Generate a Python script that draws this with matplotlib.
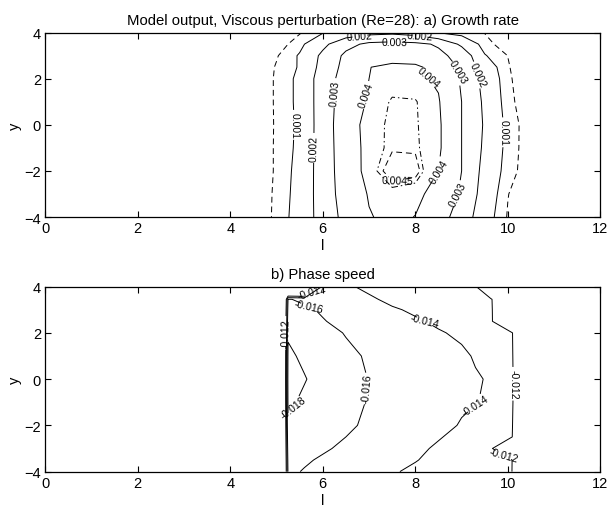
import numpy as np
import matplotlib
matplotlib.use('Agg')
import matplotlib.pyplot as plt

plt.rcParams['font.family'] = ['Liberation Sans', 'DejaVu Sans']

# a) growth rate (rows = y, columns = l)
growth_l = [4.5, 5.0, 5.5, 6.0, 6.5, 7.0, 7.5, 8.0, 8.5, 9.0, 9.5, 10.0, 10.5]
growth_y = [-4, -3, -2, -1, 0, 1, 2, 2.5, 3, 3.5, 4]
growth_rate = [
    [0, .00064, .00131, .00244, .00328, .00395, .00420, .00398, .00339, .00258, .00138, .00045, 0],
    [0, .00062, .00126, .00250, .00341, .00406, .00430, .00420, .00369, .00288, .00157, .00052, 0],
    [0, .00058, .00123, .00251, .00348, .00427, .00465, .00462, .00400, .00300, .00169, .00071, .0002],
    [0, .00058, .00116, .00253, .00350, .00427, .00447, .00446, .00413, .00300, .00183, .00077, .0002],
    [0, .00057, .00113, .00253, .00355, .00430, .00445, .00444, .00413, .00300, .00190, .00078, .0002],
    [0, .00058, .00116, .00253, .00346, .00410, .00445, .00443, .00406, .00300, .00183, .00067, .0001],
    [0, .00058, .00116, .00253, .00338, .00400, .00420, .00415, .00390, .00289, .00169, .00061, 0],
    [0, .00055, .00106, .00235, .00330, .00399, .00410, .00410, .00380, .00280, .00150, .00055, 0],
    [0, .00045, .00107, .00222, .00320, .00370, .00380, .00370, .00320, .00270, .00105, .00049, 0],
    [0, .00020, .00080, .00175, .00270, .00320, .00330, .00320, .00290, .00180, .00070, .00020, 0],
    [0, 0, .00045, .00095, .00140, .00170, .00180, .00160, .00098, .00070, .00048, 0, 0],
]
# labelled levels and the two unlabelled ones (outer dashed, inner dash-dot)
growth_levels = [0.001, 0.002, 0.003, 0.004, 0.0045]
growth_extra = [0.0005, 0.0044]

# b) phase speed (0 outside the unstable region)
phase_l = [4.8, 5.1, 5.25, 5.6, 6.0, 6.5, 7.0, 7.5, 8.0, 8.5, 9.0, 9.3, 9.63, 10.06, 10.5]
phase_y = [-4, -3.5, -3, -2.5, -2, -1, 0, 1, 2, 2.5, 3, 3.45, 4]
phase_speed = [
    [0, 0, -.0163, -.0159, -.0155, -.0150, -.0146, -.0141, -.0138, -.0135, -.0132, -.0130, -.0129, -.0128, 0],
    [0, 0, -.0166, -.0162, -.0158, -.0154, -.0150, -.0145, -.01405, -.0137, -.0134, -.0132, -.0130, -.0129, 0],
    [0, 0, -.0170, -.0166, -.0162, -.0157, -.0153, -.0148, -.0143, -.0138, -.0135, -.0133, -.0131, 0, 0],
    [0, 0, -.0174, -.0170, -.0165, -.0160, -.0156, -.0151, -.0146, -.0141, -.0136, -.0134, -.0132, -.0130, 0],
    [0, 0, -.0178, -.0173, -.0168, -.0162, -.0158, -.0153, -.0148, -.0144, -.0139, -.0136, -.0134, -.0132, 0],
    [0, 0, -.0183, -.0177, -.0171, -.0165, -.0159, -.0154, -.0150, -.0146, -.0142, -.01405, -.0138, -.0135, 0],
    [0, 0, -.0185, -.0181, -.0174, -.0167, -.01595, -.0155, -.0151, -.0147, -.0143, -.0141, -.0139, -.0136, 0],
    [0, 0, -.0183, -.0177, -.0171, -.0164, -.0158, -.0154, -.0150, -.0146, -.0142, -.0139, -.0136, -.0134, 0],
    [0, 0, -.0178, -.0172, -.0166, -.0159, -.0154, -.0149, -.0145, -.0141, -.0138, -.0136, -.0134, -.0132, 0],
    [0, 0, -.0173, -.0167, -.0161, -.0155, -.0150, -.0146, -.01415, -.0138, -.0135, -.0133, -.0131, 0, 0],
    [0, 0, -.0167, -.0163, -.0158, -.0152, -.0147, -.01415, -.0138, -.0135, -.0133, -.0131, -.0130, 0, 0],
    [0, 0, -.0161, -.0157, -.0153, -.0146, -.0142, -.0137, -.0134, -.0132, -.0130, -.0129, -.0128, 0, 0],
    [0, 0, 0, 0, -.0148, -.0142, -.0137, -.0133, -.0131, -.0129, -.0128, -.0127, 0, 0, 0],
]
phase_levels = [-0.018, -0.016, -0.014, -0.012]

xticks = [0, 2, 4, 6, 8, 10, 12]
yticks = [-4, -2, 0, 2, 4]

dashed = (0, (6, 4))
dashdot = (0, (6, 3, 1.5, 3))


def style_axes(ax):
    ax.set_xlim(0, 12)
    ax.set_ylim(-4, 4)
    ax.set_xticks(xticks)
    ax.set_yticks(yticks)
    ax.tick_params(direction='in', top=True, right=True, length=4,
                   width=0.8, labelsize=10.5, pad=3)
    ax.set_xlabel('l', fontsize=10.5, labelpad=2)
    ax.set_ylabel('y', fontsize=10.5, labelpad=2)
    for s in ax.spines.values():
        s.set_linewidth(0.9)


fig = plt.figure(figsize=(6.09, 5.06), dpi=100)

# a) growth rate
ax1 = fig.add_axes([0.074, 0.569, 0.912, 0.3646])
gz = np.array(growth_rate)
ax1.contour(growth_l, growth_y, gz, levels=growth_extra, colors='k',
            linewidths=0.7, linestyles=[dashed, dashdot])
cs1 = ax1.contour(growth_l, growth_y, gz, levels=growth_levels, colors='k',
                  linewidths=0.7, linestyles=['-', '-', '-', '-', dashed])
lab_a = [(5.45, 0.0), (5.78, -1.0), (6.22, 1.4), (6.85, 1.4), (6.8, 3.85),
         (7.55, 3.75), (8.1, 3.9), (8.3, 2.1), (8.9, 2.3), (9.35, 2.2),
         (9.77, -0.3), (8.55, -2.2), (8.95, -3.1), (7.6, -2.05)]
ax1.clabel(cs1, fmt='%g', fontsize=7.5, manual=lab_a, inline=True,
           inline_spacing=2)
style_axes(ax1)
ax1.set_title('Model output, Viscous perturbation (Re=28): a) Growth rate',
              fontsize=10.7, pad=6)

# b) phase speed
ax2 = fig.add_axes([0.074, 0.066, 0.912, 0.3656])
cs2 = ax2.contour(phase_l, phase_y, np.array(phase_speed), levels=phase_levels,
                  colors='k', linewidths=0.7, linestyles='-')
lab_b = [(5.75, 3.85), (5.7, 3.1), (5.2, 2.0), (5.45, -1.7), (6.95, -0.4),
         (8.2, 2.5), (9.3, -1.2), (10.09, -0.2), (9.9, -3.3)]
ax2.clabel(cs2, fmt='%g', fontsize=7.5, manual=lab_b, inline=True,
           inline_spacing=2)
style_axes(ax2)
ax2.set_title('b) Phase speed', fontsize=10.7, pad=6)

fig.savefig('out.png', dpi=100)
